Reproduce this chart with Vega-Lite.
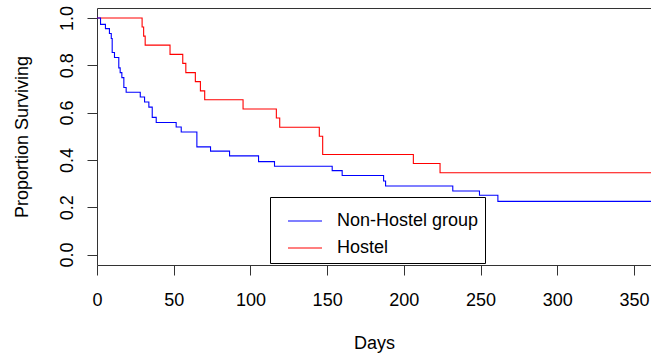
{
  "$schema": "https://vega.github.io/schema/vega-lite/v6.json",
  "width": 554,
  "height": 257,
  "autosize": {"type": "none"},
  "padding": {"left": 97, "top": 8, "right": 0, "bottom": 91},
  "background": "white",
  "config": {
    "view": {"stroke": null},
    "font": "Liberation Sans",
    "axis": {
      "labelFont": "Liberation Sans",
      "titleFont": "Liberation Sans",
      "labelFontSize": 18,
      "titleFontSize": 18,
      "titleFontWeight": "normal",
      "labelColor": "#000000",
      "titleColor": "#000000",
      "tickColor": "#333333",
      "domainColor": "#333333",
      "grid": false
    },
    "legend": {
      "labelFont": "Liberation Sans",
      "labelFontSize": 18,
      "labelColor": "#000000"
    }
  },
  "data": {
    "values": [
      {"group": "Hostel", "day": 0, "surv": 1.0},
      {"group": "Hostel", "day": 29.4, "surv": 0.962},
      {"group": "Hostel", "day": 30.4, "surv": 0.923},
      {"group": "Hostel", "day": 31.4, "surv": 0.885},
      {"group": "Hostel", "day": 47.6, "surv": 0.846},
      {"group": "Hostel", "day": 55.9, "surv": 0.808},
      {"group": "Hostel", "day": 57.9, "surv": 0.769},
      {"group": "Hostel", "day": 64.1, "surv": 0.731},
      {"group": "Hostel", "day": 67.4, "surv": 0.692},
      {"group": "Hostel", "day": 70.2, "surv": 0.654},
      {"group": "Hostel", "day": 95.2, "surv": 0.615},
      {"group": "Hostel", "day": 116.9, "surv": 0.577},
      {"group": "Hostel", "day": 119.1, "surv": 0.538},
      {"group": "Hostel", "day": 144.9, "surv": 0.5},
      {"group": "Hostel", "day": 147.1, "surv": 0.423},
      {"group": "Hostel", "day": 206.2, "surv": 0.385},
      {"group": "Hostel", "day": 223.6, "surv": 0.346},
      {"group": "Hostel", "day": 365, "surv": 0.346},
      {"group": "Non-Hostel group", "day": 0, "surv": 1.0},
      {"group": "Non-Hostel group", "day": 2.3, "surv": 0.973},
      {"group": "Non-Hostel group", "day": 5.5, "surv": 0.955},
      {"group": "Non-Hostel group", "day": 8.1, "surv": 0.934},
      {"group": "Non-Hostel group", "day": 9.3, "surv": 0.913},
      {"group": "Non-Hostel group", "day": 9.9, "surv": 0.854},
      {"group": "Non-Hostel group", "day": 11.4, "surv": 0.833},
      {"group": "Non-Hostel group", "day": 14.2, "surv": 0.789},
      {"group": "Non-Hostel group", "day": 15.1, "surv": 0.769},
      {"group": "Non-Hostel group", "day": 16.2, "surv": 0.748},
      {"group": "Non-Hostel group", "day": 17.5, "surv": 0.706},
      {"group": "Non-Hostel group", "day": 19.0, "surv": 0.686},
      {"group": "Non-Hostel group", "day": 28.2, "surv": 0.666},
      {"group": "Non-Hostel group", "day": 31.0, "surv": 0.645},
      {"group": "Non-Hostel group", "day": 33.8, "surv": 0.623},
      {"group": "Non-Hostel group", "day": 36.0, "surv": 0.58},
      {"group": "Non-Hostel group", "day": 38.6, "surv": 0.558},
      {"group": "Non-Hostel group", "day": 51.6, "surv": 0.539},
      {"group": "Non-Hostel group", "day": 54.9, "surv": 0.518},
      {"group": "Non-Hostel group", "day": 65.1, "surv": 0.455},
      {"group": "Non-Hostel group", "day": 74.0, "surv": 0.437},
      {"group": "Non-Hostel group", "day": 86.4, "surv": 0.417},
      {"group": "Non-Hostel group", "day": 105.3, "surv": 0.393},
      {"group": "Non-Hostel group", "day": 115.7, "surv": 0.373},
      {"group": "Non-Hostel group", "day": 153.3, "surv": 0.355},
      {"group": "Non-Hostel group", "day": 159.8, "surv": 0.334},
      {"group": "Non-Hostel group", "day": 186.8, "surv": 0.311},
      {"group": "Non-Hostel group", "day": 188.1, "surv": 0.29},
      {"group": "Non-Hostel group", "day": 231.9, "surv": 0.269},
      {"group": "Non-Hostel group", "day": 249.3, "surv": 0.251},
      {"group": "Non-Hostel group", "day": 261.3, "surv": 0.225},
      {"group": "Non-Hostel group", "day": 365, "surv": 0.225}
    ]
  },
  "layer": [
    {
      "mark": {"type": "line", "interpolate": "step-after", "strokeWidth": 1.1, "clip": true},
      "encoding": {
        "x": {
          "field": "day", "type": "quantitative",
          "scale": {"domain": [0, 361.1], "nice": false, "zero": false},
          "axis": {
            "values": [0, 50, 100, 150, 200, 250, 300, 350],
            "tickSize": 10, "labelPadding": 16, "labelFlush": false, "labelOverlap": false,
            "title": "Days", "titlePadding": 25
          }
        },
        "y": {
          "field": "surv", "type": "quantitative",
          "scale": {"domain": [-0.044, 1.042], "nice": false, "zero": false},
          "axis": {
            "values": [0, 0.2, 0.4, 0.6, 0.8, 1.0], "format": ".1f",
            "tickSize": 10, "labelAngle": -90, "labelAlign": "center", "labelBaseline": "alphabetic",
            "labelPadding": 15, "labelFlush": false, "labelOverlap": false,
            "title": "Proportion Surviving", "titlePadding": 27
          }
        },
        "color": {
          "field": "group", "type": "nominal",
          "scale": {"domain": ["Non-Hostel group", "Hostel"], "range": ["#0000FF", "#FF0000"]},
          "legend": {
            "title": null, "orient": "none", "legendX": 173, "legendY": 189,
            "strokeColor": "#000000", "fillColor": "#FFFFFF", "padding": 6,
            "symbolType": "stroke", "symbolSize": 1156, "symbolStrokeWidth": 1.1,
            "symbolOffset": 11, "labelOffset": 14, "rowPadding": -15.5
          }
        }
      }
    },
    {
      "mark": {"type": "line", "opacity": 0},
      "encoding": {
        "x": {
          "field": "day", "type": "quantitative",
          "axis": {"orient": "top", "ticks": false, "labels": false, "title": null, "domain": true}
        },
        "y": {"field": "surv", "type": "quantitative"},
        "detail": {"field": "group"}
      }
    }
  ],
  "resolve": {"axis": {"x": "independent"}}
}
